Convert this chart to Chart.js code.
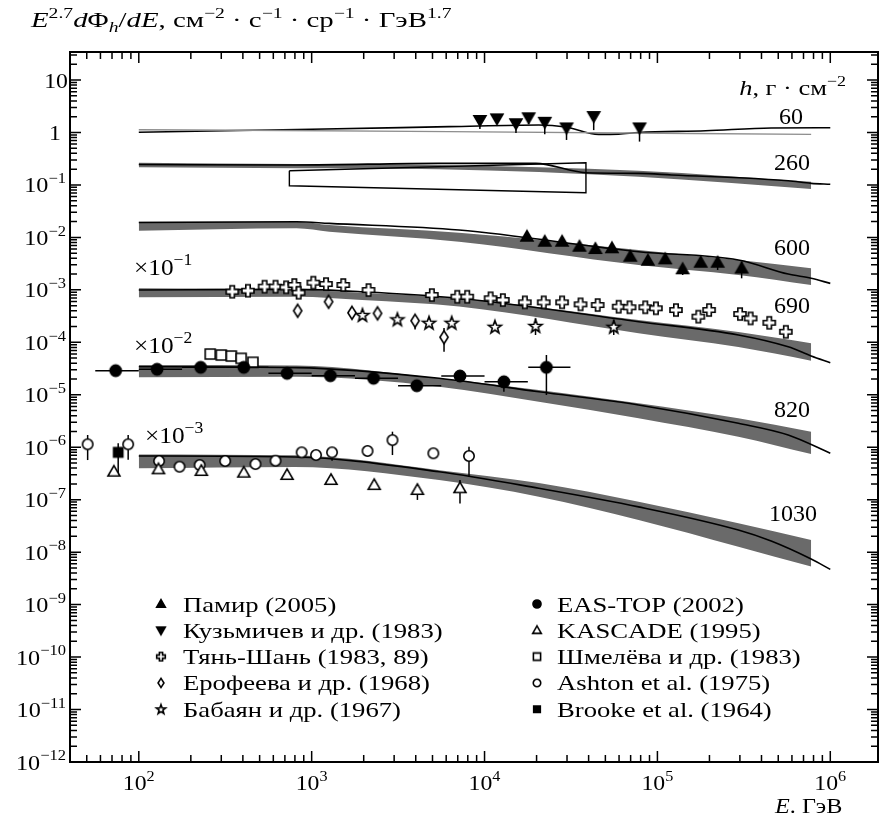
<!DOCTYPE html>
<html>
<head>
<meta charset="utf-8">
<script src="https://cdn.jsdelivr.net/npm/chart.js@4.4.1/dist/chart.umd.min.js"></script>
<style>
  html, body { margin: 0; padding: 0; background: #fff; }
  canvas { display: block; }
</style>
</head>
<body>
<canvas id="chart" width="885" height="816"></canvas>
<script>
(() => {
  // ---- axes ----
  const xRange = [40, 1.888e6];
  const yRange = [1e-12, 34.2];
  const xTickExps = [2, 3, 4, 5, 6];
  const yTickExps = [1, 0, -1, -2, -3, -4, -5, -6, -7, -8, -9, -10, -11, -12];

  // ---- model curves (band = gray, line = black) ----
  // h = 60
  const line60E = [100, 1000, 6240, 20600, 29500, 45700, 59600, 77800, 190000, 455000, 1000000];
  const line60F = [1.01, 1.15, 1.29, 1.39, 1.27, 0.92, 0.93, 1.0, 1.08, 1.22, 1.23];
  const alt60E = [100, 6240, 775000];
  const alt60F = [1.13, 1.04, 0.92];
  // h = 260
  const band260E = [100, 817, 5460, 77800, 775000];
  const band260Hi = [0.265, 0.251, 0.24, 0.187, 0.115];
  const band260Lo = [0.217, 0.207, 0.199, 0.1435, 0.0835];
  const line260E = [100, 817, 5460, 19800, 38500, 77800, 121000, 571000, 775000, 1000000];
  const line260F = [0.245, 0.24, 0.258, 0.258, 0.171, 0.166, 0.155, 0.120, 0.107, 0.103];
  // open box at h = 260
  const box260E = [743, 38600, 38600, 743, 743];
  const box260F = [0.1866, 0.2655, 0.0711, 0.0966, 0.1866];
  // h = 600
  const band600E = [100, 817, 1265, 7120, 77800, 294000, 775000];
  const band600Hi = [0.0199, 0.0199, 0.0172, 0.0123, 0.00574, 0.0037, 0.00258];
  const band600Lo = [0.0134, 0.0149, 0.0128, 0.00827, 0.00297, 0.00192, 0.00124];
  const line600E = [100, 817, 1265, 7120, 77800, 294000, 571000, 775000, 1000000];
  const line600F = [0.0192, 0.0199, 0.0185, 0.0138, 0.00533, 0.0037, 0.0020, 0.00166, 0.00133];
  // h = 690 (x 10^-1)
  const band690E = [100, 817, 1960, 7120, 77800, 294000, 775000];
  const band690Hi = [1.07e-3, 1.02e-3, 8.8e-4, 6.9e-4, 2.66e-4, 1.57e-4, 9.6e-5];
  const band690Lo = [7.2e-4, 7.4e-4, 6.4e-4, 4.8e-4, 1.49e-4, 8.1e-5, 4.46e-5];
  const line690E = [100, 817, 1960, 7120, 77800, 294000, 571000, 775000, 1000000];
  const line690F = [9.93e-4, 1.02e-3, 9.2e-4, 6.9e-4, 2.47e-4, 1.38e-4, 8.2e-5, 5.5e-5, 4.1e-5];
  // h = 820 (x 10^-2)
  const band820E = [100, 817, 5460, 20600, 77800, 294000, 775000];
  const band820Hi = [3.69e-5, 3.6e-5, 2.06e-5, 1.23e-5, 6.9e-6, 3.56e-6, 1.98e-6];
  const band820Lo = [2.15e-5, 2.2e-5, 1.43e-5, 7.4e-6, 3.56e-6, 1.58e-6, 7.4e-7];
  const line820E = [100, 817, 5460, 20600, 77800, 294000, 571000, 1000000];
  const line820F = [3.43e-5, 3.3e-5, 2.06e-5, 1.14e-5, 6.4e-6, 2.86e-6, 1.71e-6, 7.7e-7];
  // h = 1030 (x 10^-3)
  const band1030E = [100, 800, 5460, 20600, 77800, 294000, 775000];
  const band1030Hi = [7.3e-7, 7.0e-7, 3.66e-7, 2.07e-7, 9.1e-8, 3.55e-8, 1.7e-8];
  const band1030Lo = [3.96e-7, 4.2e-7, 2.37e-7, 1.14e-7, 4.1e-8, 1.27e-8, 5.3e-9];
  const line1030E = [100, 800, 5460, 20600, 77800, 294000, 455000, 775000, 1000000];
  const line1030F = [6.8e-7, 6.5e-7, 3.41e-7, 1.65e-7, 7.3e-8, 2.64e-8, 1.63e-8, 7.4e-9, 4.7e-9];

  // ---- experimental points ----
  const pamE = [17600, 22300, 28100, 35400, 43800, 54600, 69700, 88100, 111000, 140000, 178000, 223000, 307000];
  const pamF = [0.0103, 0.00828, 0.00828, 0.00664, 0.0060, 0.0062, 0.00428, 0.00359, 0.00382, 0.00247, 0.00329, 0.00329, 0.00255];
  const pamLo = [null, null, null, null, null, null, null, null, null, 0.00192, 0.00297, 0.00239, 0.00166];
  const pamHi = [null, null, null, null, null, null, null, null, null, null, 0.00428, 0.00428, 0.00344];

  const kuzE = [9400, 11800, 15200, 18000, 22300, 29800, 42800, 78800];
  const kuzF = [1.73, 1.86, 1.50, 1.95, 1.60, 1.25, 2.06, 1.25];
  const kuzLo = [1.16, null, 0.98, 1.45, 0.93, 0.72, 1.11, 0.67];

  const tsE = [347, 428, 534, 618, 712, 794, 841, 1023, 1211, 1524, 2133, 4955, 6955, 7943, 10840, 12760,
    17100, 22000, 28100, 35900, 45100, 59700, 69000, 85100, 98000, 128000, 172500, 199000, 300600, 346000, 443600, 553400];
  const tsF = [9.22e-4, 9.64e-4, 1.15e-3, 1.15e-3, 1.12e-3, 1.24e-3, 8.82e-4, 1.37e-3, 1.29e-3, 1.24e-3, 9.93e-4, 7.97e-4, 7.4e-4, 7.4e-4, 6.9e-4, 6.4e-4,
    5.78e-4, 5.78e-4, 5.78e-4, 5.3e-4, 5.14e-4, 4.77e-4, 4.65e-4, 4.65e-4, 4.45e-4, 4.13e-4, 3.08e-4, 4.13e-4, 3.46e-4, 2.86e-4, 2.36e-4, 1.59e-4];

  const eroE = [830, 1253, 1710, 2404, 3964, 5830];
  const eroF = [4.0e-4, 5.94e-4, 3.66e-4, 3.57e-4, 2.58e-4, 1.25e-4];
  const eroLo = [null, null, null, null, 1.75e-4, 6.6e-5];
  const eroHi = [null, null, null, null, null, 1.87e-4];

  const babE = [1968, 3133, 4775, 6458, 11480, 19720, 55900];
  const babF = [3.31e-4, 2.74e-4, 2.36e-4, 2.36e-4, 1.98e-4, 2.05e-4, 1.98e-4];
  const babLo = [null, null, null, null, null, 1.38e-4, 1.38e-4];
  const babHi = [null, null, null, null, null, 2.86e-4, 2.66e-4];

  const easE = [73.5, 127.6, 228, 405, 721, 1282, 2280, 4055, 7210, 12940, 22800];
  const easF = [2.88e-5, 3.06e-5, 3.33e-5, 3.33e-5, 2.56e-5, 2.31e-5, 2.06e-5, 1.49e-5, 2.28e-5, 1.77e-5, 3.33e-5];
  const easElo = [56, 100, 178, 316, 562, 1000, 1780, 3160, 5620, 10000, 17900];
  const easEhi = [100, 178, 316, 562, 1000, 1780, 3160, 5620, 10000, 17800, 31400];
  const easLo = [null, null, null, null, null, null, null, null, null, 1.14e-5, 9.9e-6];
  const easHi = [null, null, null, null, null, null, null, null, null, 2.21e-5, 5.73e-5];

  const kasE = [71.8, 130, 230, 405, 721, 1294, 2300, 4090, 7210];
  const kasF = [3.41e-7, 3.79e-7, 3.52e-7, 3.27e-7, 2.95e-7, 2.37e-7, 1.9e-7, 1.53e-7, 1.65e-7];
  const kasLo = [null, null, null, null, null, null, null, 9.9e-8, 8.5e-8];
  const kasHi = [null, null, null, null, null, null, null, 1.9e-7, 2.37e-7];

  const shmE = [259, 300, 343, 391, 457];
  const shmF = [5.98e-5, 5.73e-5, 5.48e-5, 4.95e-5, 4.16e-5];

  const ashE = [50.6, 86.8, 131, 172, 225, 316, 473, 618, 875, 1060, 1312, 2105, 2933, 5056, 8130];
  const ashF = [1.14e-6, 1.14e-6, 5.46e-7, 4.25e-7, 4.58e-7, 5.46e-7, 4.79e-7, 5.53e-7, 8.0e-7, 7.1e-7, 8.0e-7, 8.5e-7, 1.37e-6, 7.66e-7, 6.8e-7];
  const ashLo = [5.7e-7, 5.8e-7, null, null, null, null, null, null, null, null, 5.5e-7, null, 7.1e-7, null, 2.74e-7];
  const ashHi = [1.71e-6, 1.71e-6, null, null, null, null, null, null, null, null, null, null, 1.98e-6, null, 1.02e-6];

  const brE = [76];
  const brF = [8.0e-7];
  const brLo = [2.95e-7];
  const brHi = [1.19e-6];

  // ---- texts ----
  const depthLabels = ['60', '260', '600', '690', '820', '1030'];
  const factorLabels = ['−1', '−2', '−3'];
  const legendLeft = ['Памир (2005)', 'Кузьмичев и др. (1983)', 'Тянь-Шань (1983, 89)', 'Ерофеева и др. (1968)', 'Бабаян и др. (1967)'];
  const legendRight = ['EAS-TOP (2002)', 'KASCADE (1995)', 'Шмелёва и др. (1983)', 'Ashton et al. (1975)', 'Brooke et al. (1964)'];

  const SERIF = '"Liberation Serif", "DejaVu Serif", serif';
  const BAND = '#6a6a6a';

  // marker pictures (drawn once, used as pointStyle and in the legend)
  function makeMarker(kind, s) {
    const n = Math.ceil(16 * s) + 4;
    const c = document.createElement('canvas');
    c.width = c.height = n;
    const g = c.getContext('2d');
    g.translate(n / 2, n / 2);
    g.scale(s, s);
    g.lineWidth = 1.6 / s;
    g.strokeStyle = '#000';
    g.lineJoin = 'miter';
    const poly = pts => { g.beginPath(); pts.forEach(([x, y], i) => i ? g.lineTo(x, y) : g.moveTo(x, y)); g.closePath(); };
    let filled = false;
    switch (kind) {
      case 'triUp': poly([[0, -6.2], [6, 4.3], [-6, 4.3]]); filled = true; break;
      case 'triDown': poly([[0, 6.2], [6, -4.3], [-6, -4.3]]); filled = true; break;
      case 'triOpen': poly([[0, -6.2], [6, 4.3], [-6, 4.3]]); break;
      case 'plus': {
        const a = 2.2, l = 6;
        poly([[-a, -l], [a, -l], [a, -a], [l, -a], [l, a], [a, a], [a, l], [-a, l], [-a, a], [-l, a], [-l, -a], [-a, -a]]);
        break;
      }
      case 'diamond': poly([[0, -6.4], [4.1, 0], [0, 6.4], [-4.1, 0]]); break;
      case 'star': {
        const pts = [];
        for (let k = 0; k < 10; k++) {
          const r = k % 2 ? 2.8 : 6.8, a = -Math.PI / 2 + k * Math.PI / 5;
          pts.push([r * Math.cos(a), r * Math.sin(a) + 0.5]);
        }
        poly(pts);
        break;
      }
      case 'circleFill': g.beginPath(); g.arc(0, 0, 5.6, 0, Math.PI * 2); filled = true; break;
      case 'circleOpen': g.beginPath(); g.arc(0, 0, 5.2, 0, Math.PI * 2); break;
      case 'squareOpen': poly([[-5, -5], [5, -5], [5, 5], [-5, 5]]); break;
      case 'squareFill': poly([[-4.6, -4.6], [4.6, -4.6], [4.6, 4.6], [-4.6, 4.6]]); filled = true; break;
    }
    g.fillStyle = filled ? '#000' : '#fff';
    g.fill();
    g.stroke();
    return c;
  }

  const pts = (E, F) => E.map((e, i) => ({ x: e, y: F[i] }));
  const datasets = [];

  function addBand(E, hi, lo) {
    datasets.push({ data: pts(E, hi), showLine: true, pointRadius: 0, borderColor: 'transparent', borderWidth: 1,
      backgroundColor: BAND, fill: '+1', cubicInterpolationMode: 'monotone', order: 3 });
    datasets.push({ data: pts(E, lo), showLine: true, pointRadius: 0, borderColor: 'transparent', borderWidth: 1,
      fill: false, cubicInterpolationMode: 'monotone', order: 3 });
  }
  function addLine(E, F, color, width, interp) {
    datasets.push({ data: pts(E, F), showLine: true, pointRadius: 0, borderColor: color, borderWidth: width,
      fill: false, cubicInterpolationMode: interp ? 'monotone' : 'default', tension: 0, order: 2 });
  }
  const series = [];
  function addPoints(label, kind, col, row, E, F, err) {
    const ds = Object.assign({ label, data: pts(E, F), showLine: false, pointStyle: makeMarker(kind, 1),
      pointRadius: 6, order: 1 }, err || {});
    datasets.push(ds);
    series.push({ label, col, row, icon: makeMarker(kind, 0.72) });
  }

  addBand(band260E, band260Hi, band260Lo);
  addBand(band600E, band600Hi, band600Lo);
  addBand(band690E, band690Hi, band690Lo);
  addBand(band820E, band820Hi, band820Lo);
  addBand(band1030E, band1030Hi, band1030Lo);

  addLine(alt60E, alt60F, '#8e8e8e', 1.4, true);
  addLine(line60E, line60F, '#000', 1.6, true);
  addLine(line260E, line260F, '#000', 1.6, true);
  addLine(box260E, box260F, '#000', 1.4, false);
  addLine(line600E, line600F, '#000', 1.6, true);
  addLine(line690E, line690F, '#000', 1.6, true);
  addLine(line820E, line820F, '#000', 1.6, true);
  addLine(line1030E, line1030F, '#000', 1.6, true);

  addPoints(legendLeft[0], 'triUp', 0, 0, pamE, pamF, { yLo: pamLo, yHi: pamHi });
  addPoints(legendLeft[1], 'triDown', 0, 1, kuzE, kuzF, { yLo: kuzLo });
  addPoints(legendLeft[2], 'plus', 0, 2, tsE, tsF);
  addPoints(legendLeft[3], 'diamond', 0, 3, eroE, eroF, { yLo: eroLo, yHi: eroHi });
  addPoints(legendLeft[4], 'star', 0, 4, babE, babF, { yLo: babLo, yHi: babHi });
  addPoints(legendRight[0], 'circleFill', 1, 0, easE, easF, { xLo: easElo, xHi: easEhi, yLo: easLo, yHi: easHi });
  addPoints(legendRight[1], 'triOpen', 1, 1, kasE, kasF, { yLo: kasLo, yHi: kasHi });
  addPoints(legendRight[2], 'squareOpen', 1, 2, shmE, shmF);
  addPoints(legendRight[3], 'circleOpen', 1, 3, ashE, ashF, { yLo: ashLo, yHi: ashHi });
  addPoints(legendRight[4], 'squareFill', 1, 4, brE, brF, { yLo: brLo, yHi: brHi });

  // text with italics / super- and subscripts, optionally widened
  function rich(ctx, parts, x, y, size, align, stretch = 1) {
    let w = 0;
    const items = parts.map(([t, st = '']) => {
      const sup = st.includes('^'), sub = st.includes('_');
      const fs = (sup || sub) ? Math.round(size * 0.7) : size;
      const font = (st.includes('i') ? 'italic ' : '') + fs + 'px ' + SERIF;
      ctx.font = font;
      const it = { t, font, dx: w, dy: sup ? -size * 0.42 : sub ? size * 0.22 : 0 };
      w += ctx.measureText(t).width;
      return it;
    });
    const tw = w * stretch;
    const x0 = align === 'right' ? x - tw : align === 'center' ? x - tw / 2 : x;
    ctx.save();
    ctx.translate(x0, y);
    ctx.scale(stretch, 1);
    ctx.textAlign = 'left';
    ctx.textBaseline = 'alphabetic';
    items.forEach(it => { ctx.font = it.font; ctx.fillText(it.t, it.dx, it.dy); });
    ctx.restore();
  }

  const errorBars = {
    id: 'errorBars',
    beforeDatasetDraw(chart, args) {
      const ds = chart.data.datasets[args.index];
      if (!ds.yLo && !ds.xLo) return;
      const sx = chart.scales.x, sy = chart.scales.y, ctx = chart.ctx;
      ctx.save();
      ctx.strokeStyle = '#000';
      ctx.lineWidth = 1.5;
      ds.data.forEach((p, i) => {
        const px = sx.getPixelForValue(p.x), py = sy.getPixelForValue(p.y);
        ctx.beginPath();
        if (ds.yLo && ds.yLo[i] != null) {
          ctx.moveTo(px, sy.getPixelForValue(ds.yLo[i]));
          ctx.lineTo(px, sy.getPixelForValue(ds.yHi && ds.yHi[i] != null ? ds.yHi[i] : p.y));
        }
        if (ds.xLo && ds.xLo[i] != null) {
          ctx.moveTo(sx.getPixelForValue(ds.xLo[i]), py);
          ctx.lineTo(sx.getPixelForValue(ds.xHi[i]), py);
        }
        ctx.stroke();
      });
      ctx.restore();
    }
  };

  const frame = {
    id: 'frame',
    afterDraw(chart) {
      const { ctx, chartArea: a } = chart;
      const sx = chart.scales.x, sy = chart.scales.y;
      ctx.save();
      ctx.fillStyle = '#000';
      ctx.strokeStyle = '#000';
      // ticks on all four sides
      ctx.lineWidth = 1.5;
      ctx.beginPath();
      for (let e = 1; e <= 6; e++) {
        for (let k = 1; k <= 9; k++) {
          const v = k * Math.pow(10, e);
          if (v <= xRange[0] || v >= xRange[1]) continue;
          const p = sx.getPixelForValue(v), len = k === 1 ? 11 : 7;
          ctx.moveTo(p, a.bottom); ctx.lineTo(p, a.bottom - len);
          ctx.moveTo(p, a.top); ctx.lineTo(p, a.top + len);
        }
      }
      for (let e = -12; e <= 1; e++) {
        for (let k = 1; k <= 9; k++) {
          const v = k * Math.pow(10, e);
          if (v <= yRange[0] || v >= yRange[1]) continue;
          const p = sy.getPixelForValue(v), len = k === 1 ? 11 : 7;
          ctx.moveTo(a.left, p); ctx.lineTo(a.left + len, p);
          ctx.moveTo(a.right, p); ctx.lineTo(a.right - len, p);
        }
      }
      ctx.stroke();
      ctx.lineWidth = 2;
      ctx.strokeRect(a.left, a.top, a.right - a.left, a.bottom - a.top);

      // tick labels
      xTickExps.forEach(e => {
        rich(ctx, [['10'], [String(e), '^']], sx.getPixelForValue(Math.pow(10, e)), a.bottom + 28, 22, 'center', 1.08);
      });
      yTickExps.forEach(e => {
        const p = sy.getPixelForValue(Math.pow(10, e)) + 7.5;
        if (e === 1) rich(ctx, [['10']], a.left - 2, p, 22, 'right', 1.08);
        else if (e === 0) rich(ctx, [['1']], a.left - 9, p, 22, 'right', 1.08);
        else rich(ctx, [['10'], ['−' + (-e), '^']], a.left - 4, p, 22, 'right', 1.1);
      });

      // axis titles
      rich(ctx, [['E', 'i'], ['2.7', '^'], ['d', 'i'], ['Φ'], ['h', '_i'], ['/'], ['dE', 'i'], [', см'], ['−2', '^'],
        [' · с'], ['−1', '^'], [' · ср'], ['−1', '^'], [' · ГэВ'], ['1.7', '^']], 31, 27, 22, 'left', 1.31);
      rich(ctx, [['E', 'i'], ['. ГэВ']], 775, 813, 22, 'left', 1.1);
      rich(ctx, [['h', 'i'], [', г · см'], ['−2', '^']], 846, 95, 22, 'right', 1.2);

      // depth labels and scale factors
      const depthPos = [[803, 123.5], [810, 169.5], [810, 255], [810, 312.5], [810, 416.5], [817, 521]];
      depthLabels.forEach((t, i) => rich(ctx, [[t]], depthPos[i][0], depthPos[i][1], 24, 'right'));
      const factorPos = [[134, 275], [134, 353], [145, 443]];
      factorLabels.forEach((t, i) => rich(ctx, [['×10'], [t, '^']], factorPos[i][0], factorPos[i][1], 23, 'left', 1.1));

      // legend
      series.forEach(s => {
        const mx = s.col ? 537 : 161, tx = s.col ? 557 : 183;
        const base = 611.5 + s.row * 26.3;
        ctx.drawImage(s.icon, mx - s.icon.width / 2, base - 7.5 - s.icon.height / 2);
        rich(ctx, [[s.label]], tx, base, 21.5, 'left', 1.24);
      });
      ctx.restore();
    }
  };

  new Chart(document.getElementById('chart'), {
    type: 'scatter',
    data: { datasets },
    options: {
      responsive: false,
      animation: false,
      events: [],
      layout: { padding: { left: 70, right: 5, top: 52, bottom: 54 } },
      scales: {
        x: { type: 'logarithmic', min: xRange[0], max: xRange[1], display: false },
        y: { type: 'logarithmic', min: yRange[0], max: yRange[1], display: false }
      },
      plugins: {
        legend: { display: false },
        tooltip: { enabled: false },
        filler: { propagate: false }
      }
    },
    plugins: [errorBars, frame]
  });
})();
</script>
</body>
</html>
